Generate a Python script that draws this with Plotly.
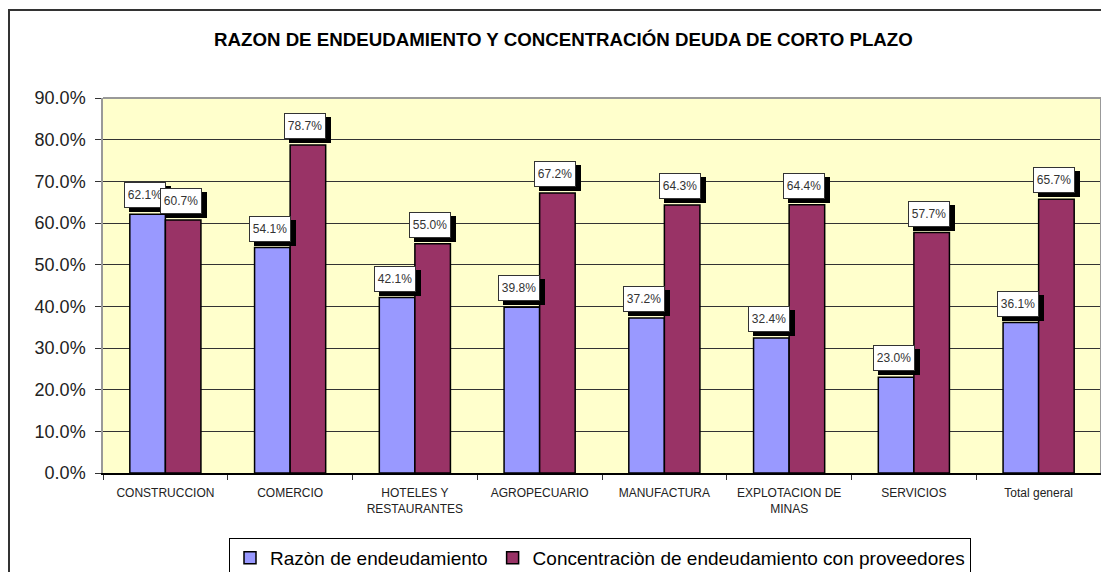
import plotly.graph_objects as go

categories = ["CONSTRUCCION", "COMERCIO", "HOTELES Y<br>RESTAURANTES", "AGROPECUARIO",
              "MANUFACTURA", "EXPLOTACION DE<br>MINAS", "SERVICIOS", "Total general"]
razon = [0.621, 0.541, 0.421, 0.398, 0.372, 0.324, 0.230, 0.361]
concentracion = [0.607, 0.787, 0.550, 0.672, 0.643, 0.644, 0.577, 0.657]
series_names = ["Razòn de endeudamiento", "Concentraciòn de endeudamiento con proveedores"]
series_colors = ["#9999FF", "#993366"]
title_text = "RAZON DE ENDEUDAMIENTO Y CONCENTRACIÓN DEUDA DE CORTO PLAZO"

# page body has an 8px default margin
OFF = 8
W, H = 1109 - OFF, 572 - OFF
# plot area in page pixels: x 103..1101, y 98..473
L = 103 - OFF
T = 98 - OFF
R = W - (1101 - OFF)
B = H - (473 - OFF)
pw, ph = W - L - R, H - T - B

fig = go.Figure()
for name, vals, col in zip(series_names, [razon, concentracion], series_colors):
    fig.add_trace(go.Bar(
        x=categories, y=vals, name=name,
        marker=dict(color=col, line=dict(color="black", width=1.5)),
    ))

annotations = []
bar_px = pw / len(categories) * (1 - 0.43) / 2
for s, vals in enumerate([razon, concentracion]):
    off = (-bar_px / 2 if s == 0 else bar_px / 2) - 2.5
    for c, v in zip(categories, vals):
        txt = f"{v*100:.1f}%"
        common = dict(x=c, y=v, xref="x", yref="y", showarrow=False,
                      xanchor="center", yanchor="bottom", width=36, height=20,
                      borderpad=2, borderwidth=1)
        annotations.append(dict(common, text=" ", xshift=off + 5, yshift=2,
                                bgcolor="black", bordercolor="black",
                                font=dict(family="Liberation Sans, Arial", size=12, color="black")))
        annotations.append(dict(common, text=txt, xshift=off, yshift=6,
                                bgcolor="white", bordercolor="#333333",
                                font=dict(family="Liberation Sans, Arial", size=12, color="#333333")))

def px_x(p):
    return (p - OFF - L) / pw

def px_y(p):
    return (H - B - (p - OFF)) / ph

annotations.append(dict(text="<b>" + title_text + "</b>", xref="paper", yref="paper",
                        x=px_x(563), y=px_y(39), showarrow=False,
                        xanchor="center", yanchor="middle",
                        font=dict(family="Liberation Sans, Arial", size=18.7, color="black")))

shapes = [
    dict(type="rect", xref="paper", yref="paper", x0=px_x(9), x1=px_x(1120),
         y0=px_y(590), y1=px_y(10), line=dict(color="#333333", width=2), layer="above"),
    dict(type="line", xref="paper", yref="paper", x0=0, x1=1, y0=1, y1=1,
         line=dict(color="#999999", width=2)),
    dict(type="line", xref="paper", yref="paper", x0=1, x1=1, y0=0, y1=1,
         line=dict(color="#999999", width=2)),
]

fig.update_layout(
    width=W, height=H,
    margin=dict(l=L, r=R, t=T, b=B, autoexpand=False),
    paper_bgcolor="white", plot_bgcolor="#FFFFCC",
    barmode="group", bargap=0.43, bargroupgap=0,
    font=dict(family="Liberation Sans, Arial", color="#222222"),
    annotations=annotations, shapes=shapes,
    showlegend=True,
    legend=dict(orientation="h", x=px_x(600), xanchor="center", y=px_y(538), yanchor="top",
                bgcolor="white", bordercolor="black", borderwidth=1,
                font=dict(size=19, color="black"), itemwidth=30,
                traceorder="normal"),
    xaxis=dict(type="category", showline=True, linecolor="black", linewidth=1.5,
               range=[-0.5, 7.5],
               ticks="outside", tickson="boundaries", ticklen=5, tickcolor="#333333",
               ticklabelstandoff=8,
               tickfont=dict(size=12, color="#222222"), showgrid=False),
    yaxis=dict(range=[0, 0.9], dtick=0.1, tickformat=".1%", showline=True,
               linecolor="#999999", linewidth=1.5, ticks="outside", ticklen=6,
               ticklabelstandoff=6,
               tickcolor="#333333", gridcolor="#333333", gridwidth=1,
               tickfont=dict(size=18, color="#222222"), zeroline=False),
)

fig.write_html("out.html")
